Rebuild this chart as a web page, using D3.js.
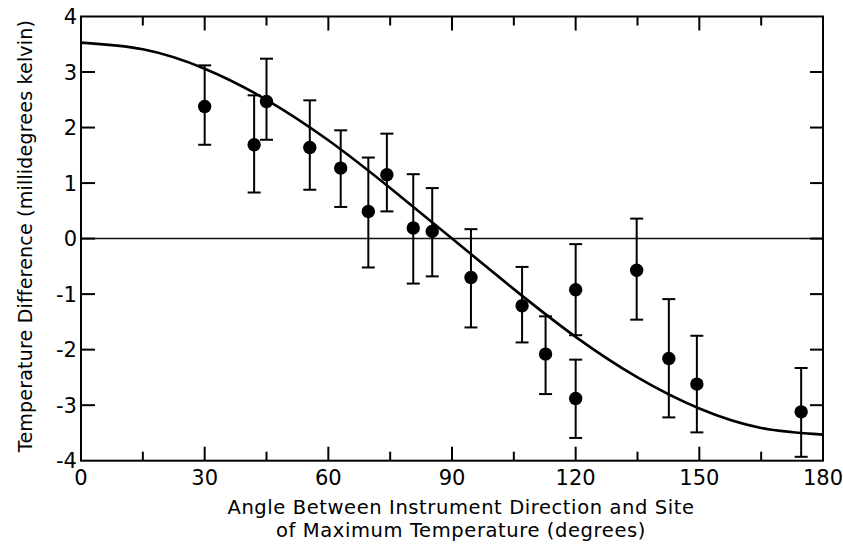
<!DOCTYPE html>
<html>
<head>
<meta charset="utf-8">
<script src="https://cdn.jsdelivr.net/npm/d3@7"></script>
<style>
  body { margin: 0; background: #fff; }
  svg { display: block; font-family: "DejaVu Sans", sans-serif; }
</style>
</head>
<body>
<svg width="843" height="544"></svg>
<script>
// Measured points (angle in degrees, temperature difference in mK)
const angles = [30, 42, 45, 55.5, 63, 69.7, 74.2, 80.6, 85.2, 94.6, 107, 112.7, 120, 120, 134.8, 142.6, 149.4, 174.7];
const diffs  = [2.38, 1.69, 2.47, 1.64, 1.27, 0.49, 1.15, 0.19, 0.13, -0.70, -1.21, -2.08, -0.92, -2.88, -0.57, -2.16, -2.62, -3.12];
const errTop = [3.12, 2.58, 3.24, 2.49, 1.95, 1.46, 1.89, 1.16, 0.91, 0.17, -0.51, -1.40, -0.10, -2.18, 0.36, -1.09, -1.75, -2.33];
const errBot = [1.69, 0.83, 1.78, 0.88, 0.57, -0.52, 0.49, -0.81, -0.68, -1.60, -1.87, -2.80, -1.74, -3.59, -1.46, -3.22, -3.49, -3.93];

// Fitted curve, every 15 degrees
const curveAngles = [0, 15, 30, 45, 60, 75, 90, 105, 120, 135, 150, 165, 180];
const curveVals   = [3.53, 3.41, 3.06, 2.50, 1.77, 0.91, 0, -0.91, -1.77, -2.50, -3.06, -3.41, -3.53];

// Ticks
const xMajor = [0, 30, 60, 90, 120, 150, 180];
const xMinor = [15, 45, 75, 105, 135, 165];
const xLabels = ['0', '30', '60', '90', '120', '150', '180'];
const yTicks = [-4, -3, -2, -1, 0, 1, 2, 3, 4];

const svg = d3.select('svg');
const L = 81, R = 823, T = 16.5, B = 460.7;

const x = d3.scaleLinear().domain([0, 180]).range([L, R]);
const y = d3.scaleLinear().domain([-4, 4]).range([B, T]);

// zero line
svg.append('line')
   .attr('x1', x(0)).attr('x2', x(180))
   .attr('y1', y(0)).attr('y2', y(0))
   .attr('stroke', '#111').attr('stroke-width', 1.5);

// fitted curve
const curve = curveAngles.map((a, i) => ({ a, v: curveVals[i] }));
svg.append('path')
   .datum(curve)
   .attr('fill', 'none')
   .attr('stroke', '#000')
   .attr('stroke-width', 2.6)
   .attr('d', d3.line().x(d => x(d.a)).y(d => y(d.v)).curve(d3.curveNatural));

// error bars
const pts = angles.map((a, i) => ({ a, v: diffs[i], hi: errTop[i], lo: errBot[i] }));
const bars = svg.append('g').attr('stroke', '#000').attr('stroke-width', 2);
pts.forEach(d => {
  bars.append('line').attr('x1', x(d.a)).attr('x2', x(d.a)).attr('y1', y(d.hi)).attr('y2', y(d.lo));
  bars.append('line').attr('x1', x(d.a) - 6.5).attr('x2', x(d.a) + 6.5).attr('y1', y(d.hi)).attr('y2', y(d.hi));
  bars.append('line').attr('x1', x(d.a) - 6.5).attr('x2', x(d.a) + 6.5).attr('y1', y(d.lo)).attr('y2', y(d.lo));
});

svg.append('g').selectAll('circle')
   .data(pts).enter().append('circle')
   .attr('cx', d => x(d.a))
   .attr('cy', d => y(d.v))
   .attr('r', 6.7)
   .attr('fill', '#000');

// frame
svg.append('rect')
   .attr('x', L).attr('y', T)
   .attr('width', R - L).attr('height', B - T)
   .attr('fill', 'none').attr('stroke', '#000').attr('stroke-width', 2);

// inward ticks on all four sides
const ticks = svg.append('g').attr('stroke', '#000').attr('stroke-width', 2);
xMajor.slice(1, -1).forEach(t => {
  ticks.append('line').attr('x1', x(t)).attr('x2', x(t)).attr('y1', B).attr('y2', B - 14);
  ticks.append('line').attr('x1', x(t)).attr('x2', x(t)).attr('y1', T).attr('y2', T + 14);
});
xMinor.forEach(t => {
  ticks.append('line').attr('x1', x(t)).attr('x2', x(t)).attr('y1', B).attr('y2', B - 9);
  ticks.append('line').attr('x1', x(t)).attr('x2', x(t)).attr('y1', T).attr('y2', T + 9);
});
yTicks.slice(1, -1).forEach(t => {
  ticks.append('line').attr('x1', L).attr('x2', L + 14).attr('y1', y(t)).attr('y2', y(t));
  ticks.append('line').attr('x1', R).attr('x2', R - 13).attr('y1', y(t)).attr('y2', y(t));
});

// tick labels
svg.append('g').selectAll('text')
   .data(yTicks).enter().append('text')
   .attr('x', 77)
   .attr('y', d => y(d))
   .attr('dy', '0.36em')
   .attr('text-anchor', 'end')
   .attr('font-size', 21)
   .text(d => d < 0 ? '-' + Math.abs(d) : String(d));

svg.append('g').selectAll('text')
   .data(xMajor).enter().append('text')
   .attr('x', d => x(d))
   .attr('y', 485)
   .attr('text-anchor', 'middle')
   .attr('font-size', 21)
   .text((d, i) => xLabels[i]);

// axis titles
svg.append('text')
   .attr('x', 461).attr('y', 514)
   .attr('text-anchor', 'middle')
   .attr('font-size', 19.5)
   .attr('letter-spacing', 0.6)
   .text('Angle Between Instrument Direction and Site');
svg.append('text')
   .attr('x', 461).attr('y', 537)
   .attr('text-anchor', 'middle')
   .attr('font-size', 19.5)
   .attr('letter-spacing', 0.6)
   .text('of Maximum Temperature (degrees)');

svg.append('text')
   .attr('transform', 'translate(32,236) rotate(-90)')
   .attr('text-anchor', 'middle')
   .attr('font-size', 19)
   .attr('letter-spacing', 0.2)
   .text('Temperature Difference (millidegrees kelvin)');
</script>
</body>
</html>
